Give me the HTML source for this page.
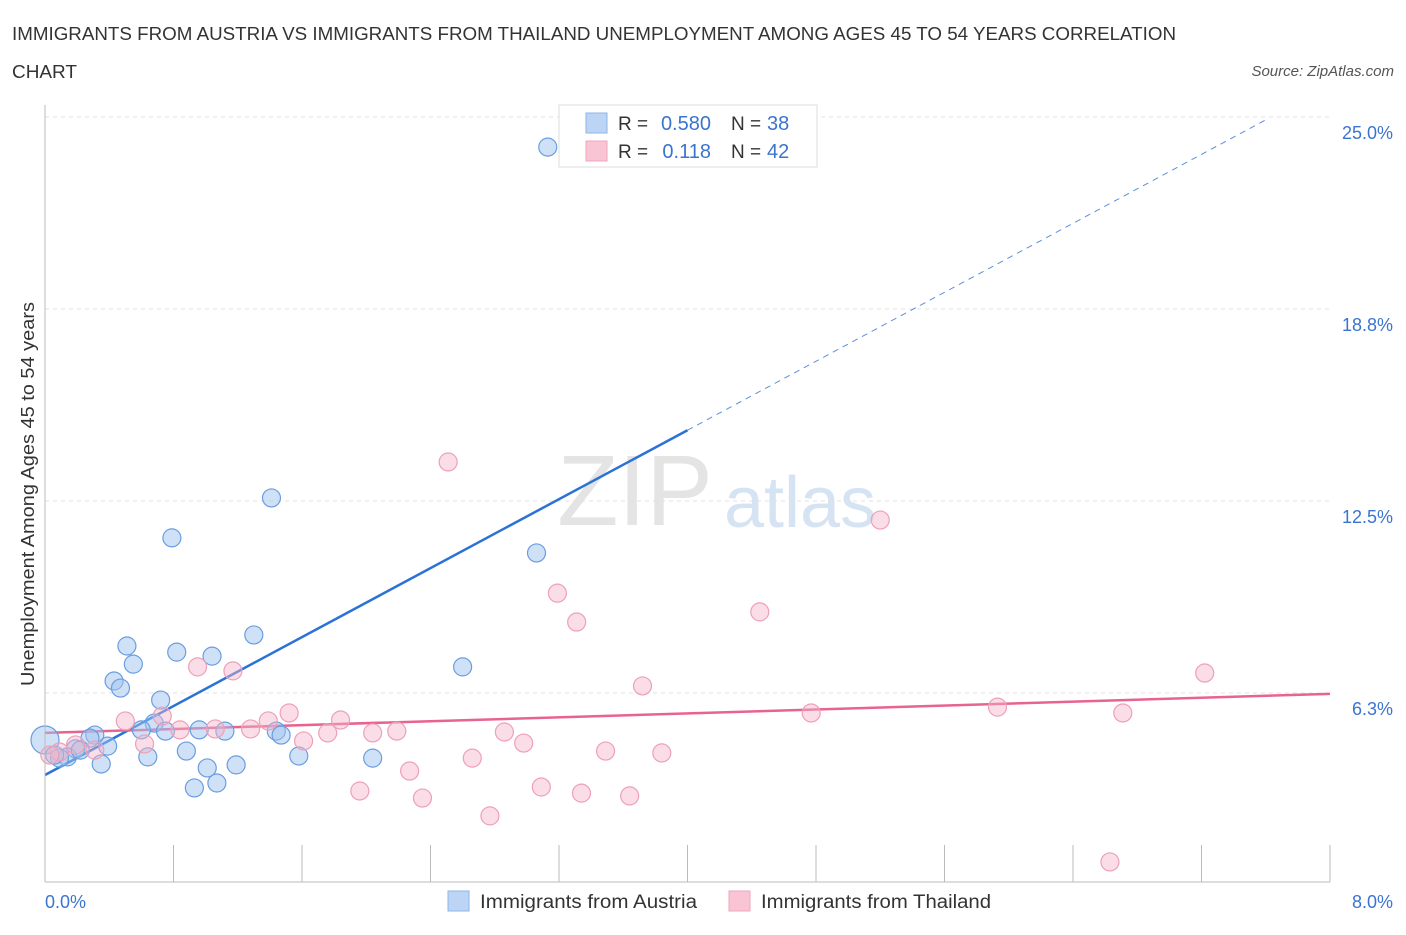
<!DOCTYPE html>
<html><head><meta charset="utf-8"><style>
body{margin:0;background:#fff;font-family:"Liberation Sans",sans-serif;}
svg text{font-family:"Liberation Sans",sans-serif;}
</style></head><body>
<svg width="1406" height="930" id="chart">
<text x="12" y="40" font-size="18" fill="#333" textLength="1164" lengthAdjust="spacingAndGlyphs">IMMIGRANTS FROM AUSTRIA VS IMMIGRANTS FROM THAILAND UNEMPLOYMENT AMONG AGES 45 TO 54 YEARS CORRELATION</text>
<text x="12" y="78" font-size="18" fill="#333" textLength="65" lengthAdjust="spacingAndGlyphs">CHART</text>
<text x="1394" y="76" font-size="15" fill="#555" font-style="italic" text-anchor="end">Source: ZipAtlas.com</text>
<text x="635" y="525" font-size="100" fill="#e4e4e4" font-family="Liberation Serif" text-anchor="middle">ZIP</text>
<text x="800" y="527" font-size="72" fill="#d6e3f3" text-anchor="middle">atlas</text>
<text transform="translate(34,494) rotate(-90)" font-size="18" fill="#333" text-anchor="middle" textLength="384" lengthAdjust="spacingAndGlyphs">Unemployment Among Ages 45 to 54 years</text>
<g id="grid"></g><g id="ticks"></g><g id="lines"></g><g id="pts"></g>
<line x1="45" y1="105" x2="45" y2="882" stroke="#bbb"/>
<line x1="45" y1="882" x2="1330" y2="882" stroke="#bbb"/>
<text x="45" y="908" font-size="18" fill="#3b74d0">0.0%</text>
<text x="1393" y="908" font-size="18" fill="#3b74d0" text-anchor="end">8.0%</text>
<g>
<rect x="559" y="105" width="258" height="62" fill="#fff" stroke="#ddd"/>
<rect x="586" y="113" width="21" height="20" fill="#bcd5f5" stroke="#8fb5e8"/>
<rect x="586" y="141" width="21" height="20" fill="#f9c5d5" stroke="#f0a5bd"/>
<text x="618" y="130" font-size="19" fill="#333">R =</text>
<text x="711" y="130" font-size="20" fill="#3b74d0" text-anchor="end">0.580</text>
<text x="731" y="130" font-size="19" fill="#333">N =</text>
<text x="767" y="130" font-size="20" fill="#3b74d0">38</text>
<text x="618" y="158" font-size="19" fill="#333">R =</text>
<text x="711" y="158" font-size="20" fill="#3b74d0" text-anchor="end">0.118</text>
<text x="731" y="158" font-size="19" fill="#333">N =</text>
<text x="767" y="158" font-size="20" fill="#3b74d0">42</text>
</g>
<g>
<rect x="448" y="891" width="21" height="20" fill="#bcd5f5" stroke="#8fb5e8"/>
<text x="480" y="908" font-size="19" fill="#333" textLength="217" lengthAdjust="spacingAndGlyphs">Immigrants from Austria</text>
<rect x="729" y="891" width="21" height="20" fill="#f9c5d5" stroke="#f0a5bd"/>
<text x="761" y="908" font-size="19" fill="#333" textLength="230" lengthAdjust="spacingAndGlyphs">Immigrants from Thailand</text>
</g>
</svg>
<script>
const yTicks=[6.25,12.5,18.75,25];
const yTickLabels=["6.3%","12.5%","18.8%","25.0%"];
const xTicks=[0,0.8,1.6,2.4,3.2,4.0,4.8,5.6,6.4,7.2,8.0];
const austriaX=[3.13,1.41,0.79,3.06,1.30,0.51,0.55,0.82,1.04,2.60,0.43,0.47,0.72,0.68,0.60,0.75,0.96,1.12,1.44,1.47,0.31,0.28,0.39,0.19,0.88,1.58,0.64,2.04,0.14,0.09,0.35,1.19,1.01,1.07,0.93,0.0,0.06,0.22];
const austriaY=[24.02,12.60,11.30,10.81,8.14,7.78,7.19,7.58,7.45,7.10,6.64,6.41,6.02,5.27,5.05,5.01,5.05,5.01,5.01,4.88,4.88,4.78,4.52,4.43,4.36,4.20,4.17,4.13,4.17,4.13,3.94,3.91,3.81,3.32,3.16,4.72,4.23,4.39];
const thaiX=[2.51,5.20,3.19,3.31,4.45,7.22,3.72,1.17,0.95,4.77,5.93,6.71,1.52,1.84,1.39,0.50,0.73,0.84,1.06,1.28,2.04,2.19,1.76,2.86,1.61,2.98,0.62,3.49,3.84,2.66,2.27,1.96,3.09,3.34,2.35,3.64,2.77,6.63,0.09,0.19,0.31,0.03];
const thaiY=[13.77,11.88,9.50,8.56,8.89,6.90,6.48,6.97,7.10,5.60,5.79,5.60,5.60,5.37,5.34,5.34,5.50,5.05,5.08,5.08,4.95,5.01,4.95,4.98,4.69,4.62,4.59,4.36,4.30,4.13,3.71,3.06,3.19,2.99,2.83,2.90,2.25,0.75,4.33,4.56,4.39,4.23];
const austriaTrend=[3.58,2.806]; // intercept, slope
const thaiTrend=[4.95,0.159];
const NS="http://www.w3.org/2000/svg";
const X=v=>45+v/8*1285, Y=v=>885-v*30.72;
function mk(t,a,p){const e=document.createElementNS(NS,t);for(const k in a)e.setAttribute(k,a[k]);document.getElementById(p).appendChild(e);return e;}
yTicks.forEach((t,i)=>{
 const g=mk('line',{x1:45,x2:1330,y1:Y(t),y2:Y(t),stroke:'#e2e2e2','stroke-dasharray':'4,4'},'grid');
 
 
 const l=mk('text',{x:1393,y:Y(t)+22,'font-size':18,fill:'#3b74d0','text-anchor':'end'},'grid');
 l.textContent=yTickLabels[i];
 
 
});
xTicks.forEach(t=>{
 const e=mk('line',{x1:X(t),x2:X(t),y1:845,y2:882,stroke:'#bbb'},'ticks');
 
 
});
const ax0=0,ax1=4.0,ax2=7.6;
let e=mk('line',{x1:X(ax0),y1:Y(austriaTrend[0]),x2:X(ax1),y2:Y(austriaTrend[0]+austriaTrend[1]*ax1),stroke:'#2a72d6','stroke-width':2.5},'lines');


e=mk('line',{x1:X(ax1),y1:Y(austriaTrend[0]+austriaTrend[1]*ax1),x2:X(ax2),y2:Y(austriaTrend[0]+austriaTrend[1]*ax2),stroke:'#5a90dc','stroke-width':1,'stroke-dasharray':'6,5'},'lines');


e=mk('line',{x1:X(0),y1:Y(thaiTrend[0]),x2:X(8),y2:Y(thaiTrend[0]+thaiTrend[1]*8),stroke:'#e8638e','stroke-width':2.5},'lines');


austriaX.forEach((x,i)=>{
 const c=mk('circle',{cx:X(x),cy:Y(austriaY[i]),r:x===0?14:9,fill:'rgba(160,196,240,0.5)',stroke:'#6a9de0','stroke-width':1.2},'pts');
 
 
});
thaiX.forEach((x,i)=>{
 const c=mk('circle',{cx:X(x),cy:Y(thaiY[i]),r:9,fill:'rgba(245,180,200,0.45)',stroke:'#eea0b8','stroke-width':1.2},'pts');
 
 
});
</script>
</body></html>
